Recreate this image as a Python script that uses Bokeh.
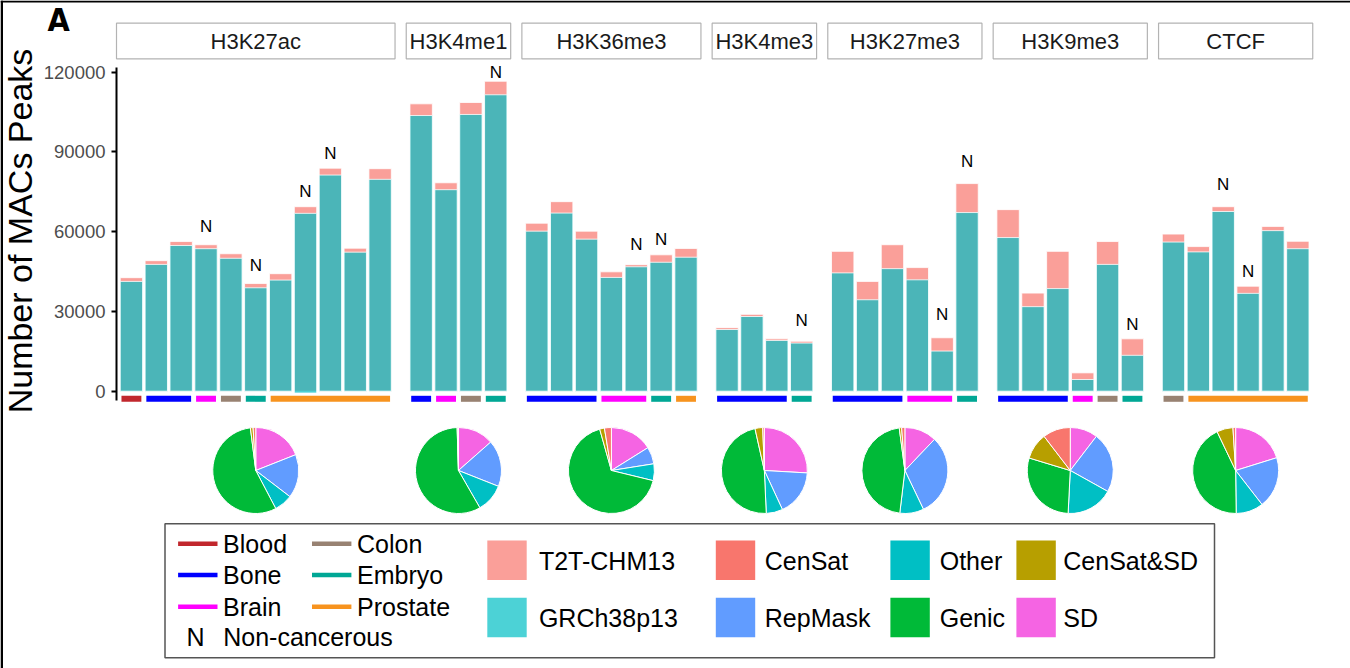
import numpy as np
from bokeh.plotting import figure
from bokeh.models import Range1d, LinearAxis, FixedTicker, NumeralTickFormatter
from bokeh.core.properties import value
from bokeh.embed import file_html
from bokeh.resources import INLINE

# ---- data ----
marks = ["H3K27ac", "H3K4me1", "H3K36me3", "H3K4me3", "H3K27me3", "H3K9me3", "CTCF"]
samples_per_mark = [11, 4, 7, 4, 6, 6, 6]

t2t_peaks = [42700, 49100, 56300, 55100, 51700, 40500, 44200, 69400, 83900, 53800, 83700,
             108100, 78400, 108600, 116600,
             63200, 71300, 60200, 44900, 47600, 51300, 53700,
             23900, 28900, 19700, 18800,
             52600, 41300, 55100, 46500, 20100, 78100,
             68300, 36900, 52600, 6900, 56300, 19700,
             59100, 54400, 69400, 39500, 62000, 56400]
grch_peaks = [41300, 47700, 54800, 53600, 50000, 38900, 41800, 66900, 81300, 52300, 79700,
              103700, 75800, 104100, 111500,
              60200, 67000, 57200, 42800, 46800, 48500, 50400,
              23200, 28100, 19100, 18100,
              44500, 34400, 46100, 41900, 15100, 67200,
              57800, 31800, 38600, 4400, 47700, 13500,
              56100, 52400, 67600, 36800, 60400, 53600]
grch_base = [0, 0, 0, 0, 0, 0, 0, -700, 0, 0, 0,
             0, 0, 0, 0,
             0, 0, 0, 0, 0, 0, 0,
             0, 0, 0, 0,
             0, 0, 0, 0, 0, 0,
             0, 0, 0, 0, 0, 0,
             0, 0, 0, 0, 0, 0]
tissue = ["Blood", "Bone", "Bone", "Brain", "Colon", "Embryo",
          "Prostate", "Prostate", "Prostate", "Prostate", "Prostate",
          "Bone", "Brain", "Colon", "Embryo",
          "Bone", "Bone", "Bone", "Brain", "Brain", "Embryo", "Prostate",
          "Bone", "Bone", "Bone", "Embryo",
          "Bone", "Bone", "Bone", "Brain", "Brain", "Embryo",
          "Bone", "Bone", "Bone", "Brain", "Colon", "Embryo",
          "Colon", "Prostate", "Prostate", "Prostate", "Prostate", "Prostate"]
non_cancerous = [0, 0, 0, 1, 0, 1, 0, 1, 1, 0, 0,
                 0, 0, 0, 1,
                 0, 0, 0, 0, 1, 1, 0,
                 0, 0, 0, 1,
                 0, 0, 0, 0, 1, 1,
                 0, 0, 0, 0, 0, 1,
                 0, 0, 1, 1, 0, 0]
# height (in peaks) at which each "N" sits, in the order of the flagged samples
n_label_peaks = [61900, 47100, 75200, 89500, 119700, 55000, 56900, 26500,
                 28700, 86500, 25000, 77700, 45000]

# pie shares (%) per mark, clockwise from 12 o'clock in this order
pie_sd = [19.0, 13.5, 16.1, 25.9, 12.1, 10.4, 20.2]
pie_repmask = [16.4, 17.5, 6.4, 17.2, 30.8, 22.7, 19.3]
pie_other = [6.9, 10.7, 6.3, 6.2, 9.0, 17.7, 10.3]
pie_genic = [55.7, 57.8, 66.8, 47.2, 46.0, 28.9, 43.1]
pie_censat_sd = [1.0, 0.3, 1.8, 2.9, 0.9, 9.9, 6.1]
pie_censat = [1.0, 0.2, 2.6, 0.6, 1.2, 10.4, 1.0]

tissue_names = ["Blood", "Bone", "Brain", "Colon", "Embryo", "Prostate"]
tissue_colors = ["#C1272D", "#0000FF", "#FF00FF", "#988272", "#00A795", "#F7931E"]
region_names = ["T2T-CHM13", "GRCh38p13", "CenSat", "RepMask", "Other", "Genic", "CenSat&SD", "SD"]
region_colors = ["#F8766D", "#00BFC4", "#F8766D", "#619CFF", "#00BFC4", "#00BA38", "#B79F00", "#F564E3"]
region_alpha = [0.7, 0.7, 1, 1, 1, 1, 1, 1]

# ---- layout (canvas pixels, top-down) ----
W, H = 1350, 668
LEFT = 116            # x of the y axis
UNIT = 24.87          # px per bar slot
GAP = 0.45            # gap between facets, in slots
ZERO_C = 390.7        # y of 0 peaks
PPU = 319 / 120000    # px per peak
FONT = value("Liberation Sans")


def cy(c):
    return H - c


starts = []
s = 0.0
for n in samples_per_mark:
    starts.append(s)
    s += n + 0.2 + GAP
ends = [st + n + 0.2 for st, n in zip(starts, samples_per_mark)]
centers = [(a + b) / 2 for a, b in zip(starts, ends)]

xs = []
for k, n in enumerate(samples_per_mark):
    xs += [starts[k] + 0.6 + j for j in range(n)]

p = figure(width=W, height=H, output_backend="svg", toolbar_location=None,
           x_range=Range1d(-LEFT / UNIT, (W - LEFT) / UNIT), y_range=Range1d(0, H),
           x_axis_location=None, y_axis_location=None,
           min_border_left=0, min_border_right=0, min_border_top=0, min_border_bottom=0)
p.extra_x_ranges = {"px": Range1d(0, W)}
p.extra_y_ranges = {"peaks": Range1d(-(H - ZERO_C) / PPU, ZERO_C / PPU)}
p.outline_line_color = None
p.grid.visible = False
p.background_fill_color = "white"
p.border_fill_color = "white"

yax = LinearAxis(y_range_name="peaks", fixed_location=0,
                 ticker=FixedTicker(ticks=[0, 30000, 60000, 90000, 120000]),
                 formatter=NumeralTickFormatter(format="0"), bounds=(-3500, 121800))
yax.axis_line_width = 2
yax.axis_line_color = "black"
yax.major_tick_out = 5
yax.major_tick_in = 0
yax.major_tick_line_width = 2
yax.minor_tick_out = 0
yax.minor_tick_in = 0
yax.major_label_standoff = 6
yax.major_label_text_font = "Liberation Sans"
yax.major_label_text_font_size = "18.5px"
yax.major_label_text_color = "#4D4D4D"
p.add_layout(yax, "left")

# bars: T2T behind, GRCh38 on top (both semi-transparent)
p.vbar(x=xs, top=t2t_peaks, bottom=0, width=0.9, fill_color=region_colors[0], fill_alpha=0.7,
       line_color="white", line_width=0.8, y_range_name="peaks")
p.vbar(x=xs, top=grch_peaks, bottom=grch_base, width=0.9, fill_color=region_colors[1], fill_alpha=0.7,
       line_color="white", line_width=0.8, y_range_name="peaks")

# non-cancerous marks
nx = [x for x, f in zip(xs, non_cancerous) if f]
p.text(x=nx, y=n_label_peaks, text=["N"] * len(nx), text_font=FONT, text_font_size="17px",
       text_align="center", text_baseline="middle", text_color="black",
       y_range_name="peaks")

# tissue strips below bars
seg_x0, seg_x1, seg_c = [], [], []
i = 0
while i < len(xs):
    j = i
    while j + 1 < len(xs) and tissue[j + 1] == tissue[i] and xs[j + 1] - xs[j] < 1.01:
        j += 1
    seg_x0.append(xs[i] - 0.4)
    seg_x1.append(xs[j] + 0.4)
    seg_c.append(tissue_colors[tissue_names.index(tissue[i])])
    i = j + 1
p.segment(x0=seg_x0, x1=seg_x1, y0=cy(398.3), y1=cy(398.3), line_color=seg_c,
          line_width=6, line_cap="butt")

# facet strip boxes
p.quad(left=starts, right=ends, top=cy(22.7), bottom=cy(58.3), fill_color="white",
       line_color="#B3B3B3", line_width=1.2)
p.text(x=centers, y=cy(40.8), text=marks, text_font=FONT,
       text_font_size="22px", text_align="center", text_baseline="middle", text_color="#1A1A1A")

# pies
order = [pie_sd, pie_repmask, pie_other, pie_genic, pie_censat_sd, pie_censat]
order_cols = [region_colors[7], region_colors[3], region_colors[4], region_colors[5],
              region_colors[6], region_colors[2]]
for k in range(len(marks)):
    shares = np.array([lst[k] for lst in order], dtype=float)
    cum = np.concatenate([[0], np.cumsum(shares)]) / shares.sum() * 2 * np.pi
    p.wedge(x=[centers[k]] * len(shares), y=cy(470), radius=43, radius_units="screen",
            start_angle=np.pi / 2 - cum[1:], end_angle=np.pi / 2 - cum[:-1],
            fill_color=order_cols, line_color="white", line_width=1)

# legend box
p.quad(left=164.5, right=1214, top=cy(523.3), bottom=cy(657.3), fill_color=None,
       line_color="#555555", line_width=1.5, x_range_name="px")
lk_x0 = [177.6, 177.6, 177.6, 311.5, 311.5, 311.5]
lk_y = [543.3, 574.5, 606.2, 543.3, 574.5, 606.2]
p.segment(x0=lk_x0, x1=[v + 39.4 for v in lk_x0], y0=[cy(v) for v in lk_y],
          y1=[cy(v) for v in lk_y], line_color=tissue_colors, line_width=4.5,
          x_range_name="px")
p.text(x=[v + 45 for v in lk_x0] + [195, 222.7], y=[cy(v) for v in lk_y] + [cy(636.7), cy(636.7)],
       text=tissue_names + ["N", "Non-cancerous"], text_font=FONT, text_font_size="25px",
       text_align=["left"] * 6 + ["center", "left"], text_baseline="middle", text_color="black",
       x_range_name="px")

sw_x = [486.8, 486.8, 715.3, 715.3, 889.9, 889.9, 1015.9, 1015.9]
sw_y = [540, 597.3] * 4
p.quad(left=sw_x, right=[v + 39.4 for v in sw_x], top=[cy(v) for v in sw_y],
       bottom=[cy(v + 39.4) for v in sw_y], fill_color=region_colors, fill_alpha=region_alpha,
       line_color=None, x_range_name="px")
tx = [538.4, 538.4, 764.3, 764.3, 939.2, 939.2, 1062.8, 1062.8]
p.text(x=tx, y=[cy(v + 20) for v in sw_y], text=region_names, text_font=FONT,
       text_font_size="25px", text_align="left", text_baseline="middle", text_color="black",
       x_range_name="px")

# panel letter, y title and the dark crop edge of the original
p.text(x=[47], y=[cy(19.5)], text=["A"], x_range_name="px",
       text_font=value("Liberation Sans Narrow, DejaVu Sans Condensed, Liberation Sans"),
       text_font_style="bold", text_font_size="32px", text_align="left",
       text_baseline="middle", text_color="black")
p.text(x=[19.5], y=[cy(230.5)], text=["Number of MACs Peaks"], x_range_name="px",
       text_font=FONT, text_font_size="34px", angle=np.pi / 2,
       text_align="center", text_baseline="middle", text_color="black")
p.quad(left=[0, 0], right=[W, 2.5], top=[H, H], bottom=[cy(2), 0], fill_color="black",
       line_color=None, x_range_name="px")

open("out.html", "w").write(file_html(p, INLINE))
